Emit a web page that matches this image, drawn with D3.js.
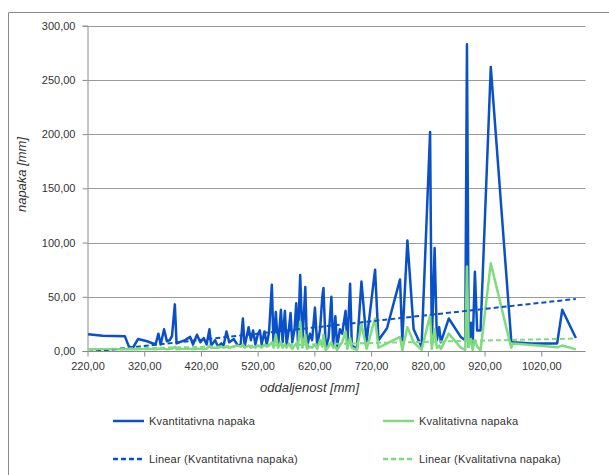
<!DOCTYPE html>
<html><head><meta charset="utf-8">
<script src="https://cdn.jsdelivr.net/npm/d3@7"></script>
<style>body{margin:0;background:#fff}svg{display:block}text{font-family:"Liberation Sans",Arial,sans-serif;fill:#333}</style>
</head><body><svg id="c" width="609" height="475"></svg>
<script>
// distance [mm]
const distances = [221,247,286,293,300,309,325,340,345,349,355,360,365,369,374,377,392,401,406,413,419,425,430,435,438,445,450,456,460,465,470,478,485,490,494,497,504,508,512,516,520,524,527,532,536,540,545,548,552,556,561,564,568,571,575,578,581,585,588,591,595,599,604,607,612,616,621,625,630,634,636,640,645,650,653,657,660,665,669,675,678,683,686,695,703,712,727,733,748,771,775,784,795,809,824,827,832,836,840,843,857,878,886,889,892,896,899,903,907,913,931,967,970,1003,1048,1057,1081];
// Kvantitativna napaka
const kvantitativna = [15.4,14,13.5,4,3,11,9,6,16,6,20,9,10,14,43,7,10,13,6,15,8,12,6,20,5,10,4,7,5,18,8,11,5,6,30,4,22,10,19,6,15,19,6,18,6,17,61,5,36,4,38,8,37,6,20,35,8,20,44,9,70,8,59,3,16,10,40,5,20,50,58,3,12,50,5,32,4,20,16,37,5,62,5,2,64,9,75,10,21,66,10,102,20,4,202,7,95,10,22,8,30,13,10,283,4,26,4,73,19,19,262,10,8,7,7,38,12];
// Kvalitativna napaka
const kvalitativna = [1.5,1.5,1.5,1.5,1.5,1.5,2,1.5,2,2,2,1.5,2,2,4,1.5,2,2,1.5,2,2,1.5,2,5,3,3,3,4,3,4,3,4,5,4,6,3,5,3,4,3,5,4,3,6,4,5,8,3,15,3,8,3,6,3,7,4,2,5,7,2,27,3,15,2,4,3,6,2,10,4,15,1,4,8,3,4,1,5,8,18,2,12,3,1,25,2,30,3,7,13,1,22,8,1,33,2,20,3,5,2,16,3,1,78,4,11,1,10,4,0.5,81,3,7,5.5,3.5,5,1.5];
// linear trend lines: [x, y] at both ends
const trendKvant = [[221,-1],[1081,48]];
const trendKval = [[221,1.5],[1081,11.5]];
const yTicks = [0,50,100,150,200,250,300];
const xTicks = [220,320,420,520,620,720,820,920,1020];
const seriesNames = ["Kvantitativna napaka","Kvalitativna napaka","Linear (Kvantitativna napaka)","Linear (Kvalitativna napaka)"];
const colors = ["#0a50c8","#7edc7e"];

const svg = d3.select("#c");
const fmt = v => d3.format(".2f")(v).replace(".", ",");
const x = d3.scaleLinear().domain([220,1098]).range([87.5,585.5]);
const y = d3.scaleLinear().domain([0,300]).range([351,25.7]);

// outer frame
svg.append("path").attr("d","M8.5,475V12.5H609").attr("fill","none").attr("stroke","#8a8a8a").attr("stroke-width",1);

// gridlines
svg.append("g").selectAll("line").data(yTicks.filter(d=>d>0)).join("line")
  .attr("x1",x(220)).attr("x2",585.5).attr("y1",d=>Math.round(y(d))+0.5).attr("y2",d=>Math.round(y(d))+0.5)
  .attr("stroke","#9a9a9a").attr("stroke-width",1);

// axes
const yAxis = d3.axisLeft(y).tickValues(yTicks).tickFormat(fmt).tickSize(5).tickPadding(7);
const gy = svg.append("g").attr("transform","translate(87.5,0)").call(yAxis);
const xAxis = d3.axisBottom(x).tickValues(xTicks).tickFormat(fmt).tickSize(5).tickPadding(6);
const gx = svg.append("g").attr("transform","translate(0,351.5)").call(xAxis);
[gx,gy].forEach(g=>{
  g.select(".domain").attr("stroke","#8a8a8a");
  g.selectAll(".tick line").attr("stroke","#8a8a8a");
  g.selectAll(".tick text").attr("font-family","Liberation Sans, Arial, sans-serif").attr("font-size",11).attr("fill","#333");
});
gx.select(".domain").attr("d","M"+x(220)+",0H585.5");

// axis titles
svg.append("text").attr("x",309.5).attr("y",392).attr("text-anchor","middle").attr("font-size",13).attr("font-style","italic").text("oddaljenost [mm]");
svg.append("text").attr("transform","translate(26,174.5) rotate(-90)").attr("text-anchor","middle").attr("font-size",13).attr("font-style","italic").text("napaka [mm]");

// clip
svg.append("clipPath").attr("id","clip").append("rect").attr("x",x(220)).attr("y",y(300)-5).attr("width",585.5-x(220)).attr("height",y(0)-y(300)+5);
const plot = svg.append("g").attr("clip-path","url(#clip)");

const line = d3.line().x(d=>x(d[0])).y(d=>y(d[1]));
const s1 = distances.map((d,i)=>[d,kvantitativna[i]]);
const s2 = distances.map((d,i)=>[d,kvalitativna[i]]);
plot.append("path").datum(s1).attr("d",line).attr("fill","none").attr("stroke",colors[0]).attr("stroke-width",2.5).attr("stroke-linejoin","round");
plot.append("path").datum(s2).attr("d",line).attr("fill","none").attr("stroke",colors[1]).attr("stroke-width",2.5).attr("stroke-linejoin","round");
plot.append("path").datum(trendKvant).attr("d",line).attr("fill","none").attr("stroke",colors[0]).attr("stroke-width",2).attr("stroke-dasharray","5,3");
plot.append("path").datum(trendKval).attr("d",line).attr("fill","none").attr("stroke",colors[1]).attr("stroke-width",2).attr("stroke-dasharray","5,3");

// legend
const leg = [
  {x:113,y:421,c:colors[0],dash:null,t:seriesNames[0]},
  {x:383,y:421,c:colors[1],dash:null,t:seriesNames[1]},
  {x:113,y:459,c:colors[0],dash:"5,3",t:seriesNames[2]},
  {x:383,y:459,c:colors[1],dash:"5,3",t:seriesNames[3]}
];
const lg = svg.append("g").selectAll("g").data(leg).join("g").attr("transform",d=>`translate(${d.x},${d.y})`);
lg.append("line").attr("x1",0).attr("x2",31).attr("y1",0).attr("y2",0).attr("stroke",d=>d.c).attr("stroke-width",2.5).attr("stroke-dasharray",d=>d.dash);
lg.append("text").attr("x",36).attr("y",4).attr("font-size",11).attr("letter-spacing",0.2).text(d=>d.t);
</script></body></html>
